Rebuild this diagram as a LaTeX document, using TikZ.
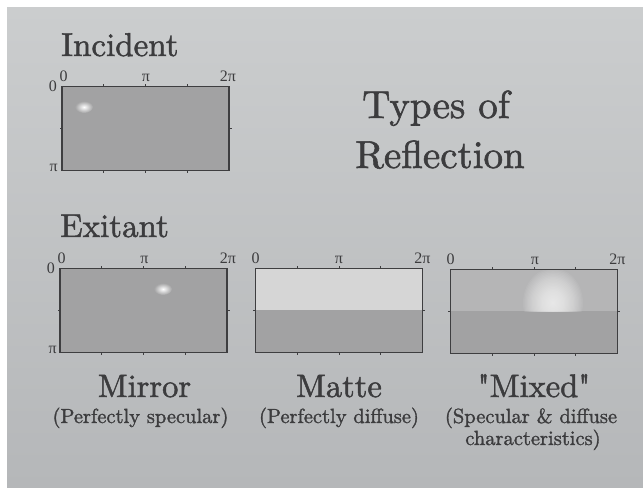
\documentclass[tikz,border=0pt]{standalone}
\usepackage{fontspec}
\newfontfamily\pifont{Liberation Serif}
\newfontfamily\slidefont{lmroman10-regular.otf}[FakeBold=1.5,Ligatures=TeXOff]
\usetikzlibrary{calc}
\definecolor{slidetop}{HTML}{CBCDCE}
\definecolor{slidebot}{HTML}{B5B7B9}
\definecolor{plotgray}{HTML}{A2A2A3}
\definecolor{mattetop}{HTML}{D6D6D6}
\definecolor{mixtop}{HTML}{B5B5B6}
\definecolor{framegray}{HTML}{3E3E40}
\definecolor{ink}{HTML}{3C3C3E}
\tikzset{
  plotbox/.style={draw=framegray,line width=1.1pt,fill=plotgray,inner sep=0pt,
    outer sep=0pt,minimum width=167pt,minimum height=84pt},
  tick/.style={draw=framegray,line width=0.9pt},
  glow/.style={fill=white,opacity=0.06},
  axlab/.style={font=\pifont\fontsize{16}{16}\selectfont,text=ink,inner sep=0pt},
  heading/.style={font=\slidefont\fontsize{33}{33}\selectfont,text=ink,inner sep=0pt,anchor=base west},
  bigtitle/.style={font=\slidefont\fontsize{39}{39}\selectfont,text=ink,inner sep=0pt,anchor=base},
  kind/.style={font=\slidefont\fontsize{32.5}{32.5}\selectfont,text=ink,inner sep=0pt,anchor=base},
  remark/.style={font=\slidefont\fontsize{20.5}{20.5}\selectfont,text=ink,inner sep=0pt,anchor=base},
}
\begin{document}
\begin{tikzpicture}[x=1pt,y=-1pt]
% page and slide
\useasboundingbox[fill=white] (0,0) rectangle (643,489);
\shade[top color=slidetop,bottom color=slidebot] (7,8) rectangle (643,487);
% ticks round a plot box
\def\plotticks#1{%
  \foreach \t in {0.25,0.5,0.75}{
    \draw[tick] ($(#1.north west)!\t!(#1.north east)$) -- ++(0,-2.5);
    \draw[tick] ($(#1.south west)!\t!(#1.south east)$) -- ++(0,2.5);
  }
  \draw[tick] (#1.west) -- ++(-2.5,0);
  \draw[tick] (#1.east) -- ++(2.5,0);
}
% headings
\node[heading] (incident) at (61,56) {Incident};
\node[heading] (exitant) at (60,237) {Exitant};
\node[bigtitle] (typesof) at (436,118) {Types of};
\node[bigtitle] (reflection) at (440,168) {Reflection};
% incident plot
\node[plotbox] (inc) at (145.5,128.5) {};
\shade[inner color=white,outer color=plotgray] (84,107) ellipse (9 and 6);
\plotticks{inc}
\node[axlab,anchor=base] (inc0) at ($(inc.north west)+(1.5,-5)$) {0};
\node[axlab,anchor=base] (incpi) at ($(inc.north)+(0.5,-5)$) {π};
\node[axlab,anchor=base] (inc2pi) at ($(inc.north east)+(-1,-5)$) {2π};
\node[axlab,anchor=base east] (incl0) at ($(inc.north west)+(-5,5)$) {0};
\node[axlab,anchor=base east] (inclpi) at ($(inc.south west)+(-4,1)$) {π};
% mirror plot
\node[plotbox] (mir) at (143.5,310.5) {};
\shade[inner color=white,outer color=plotgray] (163,289) ellipse (9 and 6);
\plotticks{mir}
\node[axlab,anchor=base] (mir0) at ($(mir.north west)+(1.5,-5)$) {0};
\node[axlab,anchor=base] (mirpi) at ($(mir.north)+(1,-5)$) {π};
\node[axlab,anchor=base] (mir2pi) at ($(mir.north east)+(1,-5)$) {2π};
\node[axlab,anchor=base east] (mirl0) at ($(mir.north west)+(-5,5)$) {0};
\node[axlab,anchor=base east] (mirlpi) at ($(mir.south west)+(-3,1)$) {π};
% matte plot
\node[plotbox] (mat) at (339,310.5) {};
\fill[mattetop] ($(mat.north west)+(0.6,0.6)$) rectangle ($(mat.east)+(-0.6,0)$);
\plotticks{mat}
\node[axlab,anchor=base] (mat0) at ($(mat.north west)+(0,-5)$) {0};
\node[axlab,anchor=base] (matpi) at ($(mat.north)+(0,-5)$) {π};
\node[axlab,anchor=base] (mat2pi) at ($(mat.north east)+(0,-5)$) {2π};
% mixed plot
\node[plotbox] (mix) at (534,311.5) {};
\fill[mixtop] ($(mix.north west)+(0.6,0.6)$) rectangle ($(mix.east)+(-0.6,0)$);
\begin{scope}
\clip ($(mix.north west)+(0.6,0.6)$) rectangle ($(mix.east)+(-0.6,0)$);
\foreach \k in {1,...,24}
  \fill[glow] (553,303) ellipse ({1.25*\k} and {1.45*\k});
\end{scope}
\plotticks{mix}
\node[axlab,anchor=base] (mix0) at ($(mix.north west)+(0,-5)$) {0};
\node[axlab,anchor=base] (mixpi) at ($(mix.north)+(1,-5)$) {π};
\node[axlab,anchor=base] (mix2pi) at ($(mix.north east)+(0,-5)$) {2π};
% captions
\node[kind] (mirror) at (144.5,397) {Mirror};
\node[kind] (matte) at (339,397) {Matte};
\node[kind] (mixed) at (534,397) {"Mixed"};
\node[remark] (mirrornote) at (140.5,423) {(Perfectly specular)};
\node[remark] (mattenote) at (339,423) {(Perfectly diffuse)};
\node[remark] (mixednote) at (531,423) {(Specular \& diffuse};
\node[remark] (mixednotetwo) at (533,445) {characteristics)};
\end{tikzpicture}
\end{document}
